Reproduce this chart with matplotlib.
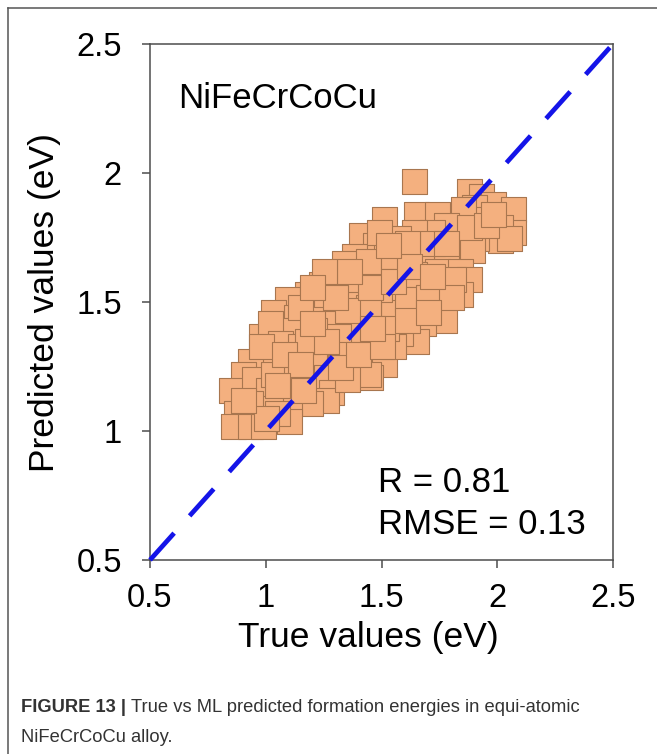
import matplotlib
matplotlib.use("Agg")
import matplotlib.pyplot as plt
from matplotlib.lines import Line2D

# True vs ML-predicted formation energies (eV), NiFeCrCoCu
true_ev = [
    1.88, 1.93, 1.98, 2.07, 2.07, 2.01, 1.90, 1.93, 2.01, 2.05,
    1.85, 1.91, 1.84, 1.51, 1.65, 1.74, 1.78, 1.72, 1.64, 1.57,
    1.41, 1.47, 1.52, 1.61, 1.70, 1.83, 1.89, 1.78, 1.38, 1.34,
    1.31, 1.41, 1.49, 1.57, 1.67, 1.74, 1.84, 1.88, 1.75, 1.84,
    1.67, 1.58, 1.52, 1.44, 1.35, 1.24, 1.22, 1.29, 1.18, 1.09,
    1.03, 1.13, 1.22, 1.28, 1.38, 1.47, 1.55, 1.64, 1.72, 1.77,
    1.68, 1.65, 1.58, 1.49, 1.41, 1.31, 1.21, 1.10, 0.98, 1.02,
    1.06, 1.15, 1.25, 1.35, 1.44, 1.51, 1.45, 1.55, 1.38, 1.29,
    1.21, 1.12, 1.00, 0.93, 0.90, 0.85, 0.95, 1.01, 1.10, 1.19,
    1.26, 1.28, 1.26, 1.19, 1.10, 1.02, 0.93, 0.87, 0.86, 0.93,
    0.99, 1.10, 1.05, 1.44, 1.35, 1.44, 1.55, 1.64, 1.81, 1.72,
    1.61, 1.49, 1.88, 1.95, 1.98, 1.35, 1.26, 1.15, 1.49, 1.61,
    1.70, 1.44, 1.35, 1.52, 1.61, 1.18, 1.26, 1.03, 1.13, 0.98,
    1.00, 0.90, 1.16, 1.32, 1.40, 1.08, 1.20, 1.30, 1.45, 1.55,
    1.62, 1.53, 1.78, 1.80, 1.70, 1.50, 1.36, 1.25, 1.20, 1.72,
    1.46, 1.15, 1.05, 1.64,
]
pred_ev = [
    1.93, 1.91, 1.88, 1.86, 1.77, 1.79, 1.87, 1.82, 1.74, 1.75,
    1.86, 1.75, 1.77, 1.82, 1.84, 1.84, 1.80, 1.77, 1.77, 1.75,
    1.76, 1.72, 1.69, 1.69, 1.69, 1.73, 1.70, 1.68, 1.68, 1.65,
    1.61, 1.61, 1.60, 1.62, 1.66, 1.62, 1.62, 1.59, 1.55, 1.53,
    1.56, 1.53, 1.51, 1.53, 1.53, 1.57, 1.51, 1.48, 1.53, 1.51,
    1.46, 1.44, 1.46, 1.42, 1.46, 1.44, 1.46, 1.48, 1.47, 1.43,
    1.42, 1.35, 1.38, 1.37, 1.39, 1.37, 1.39, 1.39, 1.37, 1.42,
    1.34, 1.33, 1.30, 1.30, 1.29, 1.26, 1.21, 1.33, 1.24, 1.24,
    1.26, 1.26, 1.27, 1.27, 1.22, 1.16, 1.20, 1.16, 1.18, 1.20,
    1.21, 1.15, 1.12, 1.11, 1.11, 1.09, 1.11, 1.07, 1.02, 1.02,
    1.02, 1.04, 1.07, 1.22, 1.20, 1.66, 1.68, 1.61, 1.59, 1.73,
    1.73, 1.77, 1.79, 1.80, 1.84, 1.59, 1.53, 1.48, 1.55, 1.51,
    1.52, 1.48, 1.47, 1.40, 1.43, 1.35, 1.35, 1.22, 1.21, 1.33,
    1.05, 1.12, 1.16, 1.25, 1.30, 1.30, 1.42, 1.52, 1.56, 1.58,
    1.64, 1.72, 1.73, 1.52, 1.46, 1.33, 1.62, 1.62, 1.56, 1.60,
    1.40, 1.26, 1.18, 1.97,
]

axis_lim = [0.5, 2.5]
tick_vals = [0.5, 1, 1.5, 2, 2.5]
tick_labels = ["0.5", "1", "1.5", "2", "2.5"]
r_value = 0.81
rmse_value = 0.13
alloy = "NiFeCrCoCu"

plt.rcParams["font.family"] = ["Liberation Sans", "DejaVu Sans"]
plt.rcParams["lines.scale_dashes"] = False

W, H = 657, 754
fig = plt.figure(figsize=(W / 100, H / 100), dpi=100)
fig.patch.set_facecolor("white")

ax = fig.add_axes([150 / W, 1 - 560 / H, 463 / W, 516 / H])
ax.set_xlim(axis_lim)
ax.set_ylim(axis_lim)

spine_col = "#4d4d4d"
for s in ax.spines.values():
    s.set_color(spine_col)
    s.set_linewidth(1.1)

ax.scatter(true_ev, pred_ev, marker="s", s=18 ** 2, facecolor="#f4b07f",
           edgecolor="#a8764f", linewidths=0.8, zorder=2)

# y = x reference line
ax.plot(axis_lim, axis_lim, color="#1414e8", lw=3.4, dashes=(26, 16.7),
        solid_capstyle="butt", dash_capstyle="butt", zorder=3, clip_on=False)

ax.set_xticks(tick_vals)
ax.set_xticklabels(tick_labels)
ax.set_yticks(tick_vals)
ax.set_yticklabels(tick_labels)
ax.tick_params(direction="out", length=5.8, width=1.1, color=spine_col,
               labelsize=23.5, top=False, right=False)
ax.tick_params(axis="x", pad=11)
ax.tick_params(axis="y", pad=14.5)

ax.set_xlabel("True values (eV)", fontsize=25.5, va="center")
ax.xaxis.set_label_coords((368 - 150) / 463, (560 - 637) / 516)
ax.set_ylabel("Predicted values (eV)", fontsize=25.5, va="center")
ax.yaxis.set_label_coords((45 - 150) / 463, 0.5)

ax.text((178 - 150) / 463, (560 - 99) / 516, alloy, transform=ax.transAxes,
        fontsize=25, ha="left", va="center")
ax.text((378 - 150) / 463, (560 - 483) / 516, f"R = {r_value:.2f}",
        transform=ax.transAxes, fontsize=25, ha="left", va="center")
ax.text((378 - 150) / 463, (560 - 525) / 516, f"RMSE = {rmse_value:.2f}",
        transform=ax.transAxes, fontsize=25, ha="left", va="center")

# Page frame lines (left and top)
frame_col = "#555555"
fig.add_artist(Line2D([8 / W, 8 / W], [0, 1 - 8 / H], transform=fig.transFigure,
                      color=frame_col, lw=1.1))
fig.add_artist(Line2D([8 / W, 1], [1 - 8 / H, 1 - 8 / H], transform=fig.transFigure,
                      color=frame_col, lw=1.1))

# Caption
cap_font = ["Liberation Sans Narrow", "Liberation Sans", "DejaVu Sans"]
cap_col = "#333333"
x0 = 21 / W
b = fig.text(x0, 1 - 708 / H, "FIGURE 13 |", fontsize=13.2, fontweight="bold",
             family=cap_font, color=cap_col, va="center", ha="left")
fig.canvas.draw()
bb = b.get_window_extent(fig.canvas.get_renderer())
fig.text(bb.x1 / W + 5 / W, 1 - 708 / H,
         "True vs ML predicted formation energies in equi-atomic",
         fontsize=13.2, family=cap_font, color=cap_col, va="center", ha="left")
fig.text(x0, 1 - 738 / H, "NiFeCrCoCu alloy.", fontsize=13.2, family=cap_font,
         color=cap_col, va="center", ha="left")

fig.savefig("out.png", dpi=100, facecolor="white")
